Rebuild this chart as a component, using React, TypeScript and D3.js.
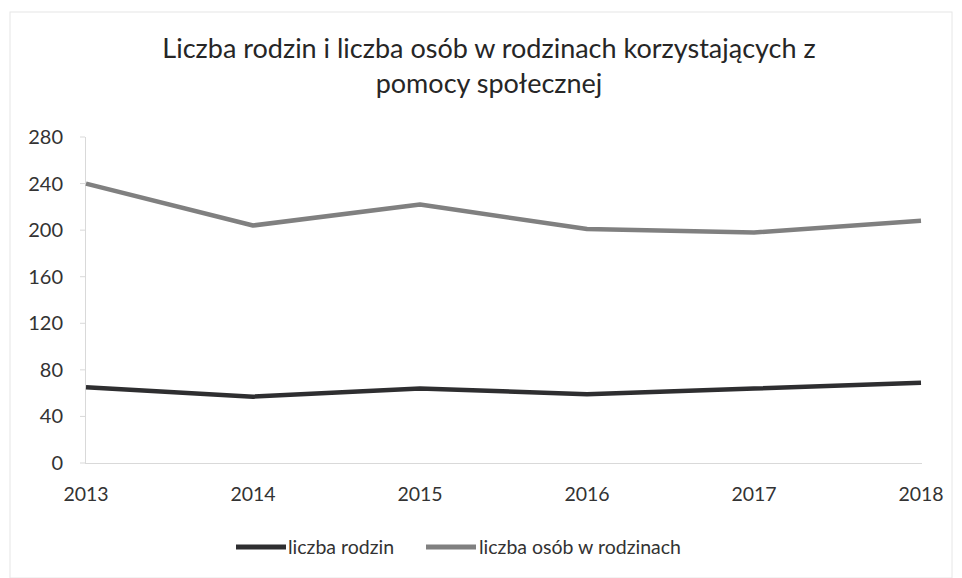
import React from "react";
import * as d3 from "d3";

const years = ["2013", "2014", "2015", "2016", "2017", "2018"];
const liczbaRodzin = [65, 57, 64, 59, 64, 69];
const liczbaOsob = [240, 204, 222, 201, 198, 208];
const yTicks = [0, 40, 80, 120, 160, 200, 240, 280];
const seriesNames = ["liczba rodzin", "liczba osób w rodzinach"];
const titleLines = [
  "Liczba rodzin i liczba osób w rodzinach korzystających z",
  "pomocy społecznej",
];

const W = 962;
const H = 578;
const font = "Lato, 'Open Sans', sans-serif";

export default function App() {
  const x = d3.scalePoint<string>().domain(years).range([86, 921]);
  const y = d3.scaleLinear().domain([0, 280]).range([463, 137]);
  const line = d3
    .line<number>()
    .x((_, i) => x(years[i]) as number)
    .y((d) => y(d));
  const series = [
    { name: seriesNames[0], values: liczbaRodzin, color: "#2e2e30" },
    { name: seriesNames[1], values: liczbaOsob, color: "#808080" },
  ];
  return (
    <svg
      width={W}
      height={H}
      style={{ position: "absolute", left: 0, top: 0, background: "#fff" }}
    >
      <rect x={0} y={0} width={W} height={H} fill="#fff" />
      <rect x={10} y={12} width={942} height={566} fill="none" stroke="#e6e6e6" strokeWidth={1} />
      {titleLines.map((t, i) => (
        <text
          key={i}
          x={489}
          y={58 + i * 35}
          textAnchor="middle"
          fontFamily={font}
          fontSize={27}
          fill="#262626"
        >
          {t}
        </text>
      ))}
      {/* axes */}
      <line x1={85.5} x2={85.5} y1={137} y2={463} stroke="#d9d9d9" />
      <line x1={85} x2={922} y1={463.5} y2={463.5} stroke="#d9d9d9" />
      {yTicks.map((t) => (
        <g key={t}>
          <line x1={80} x2={85} y1={y(t)} y2={y(t)} stroke="#d9d9d9" />
          <text
            x={63}
            y={y(t)}
            dy="0.35em"
            textAnchor="end"
            fontFamily={font}
            fontSize={20}
            fill="#333"
          >
            {t}
          </text>
        </g>
      ))}
      {years.map((yr) => (
        <text
          key={yr}
          x={x(yr)}
          y={494}
          dy="0.35em"
          textAnchor="middle"
          fontFamily={font}
          fontSize={19.5}
          fill="#333"
        >
          {yr}
        </text>
      ))}
      {series.map((s) => (
        <path
          key={s.name}
          d={line(s.values) || ""}
          fill="none"
          stroke={s.color}
          strokeWidth={4.5}
          strokeLinejoin="round"
        />
      ))}
      {/* legend */}
      {[
        { lx: 236, tx: 288 },
        { lx: 426, tx: 479 },
      ].map((p, i) => (
        <g key={i}>
          <line
            x1={p.lx}
            x2={p.lx + 50}
            y1={547}
            y2={547}
            stroke={series[i].color}
            strokeWidth={5}
          />
          <text
            x={p.tx}
            y={547}
            dy="0.35em"
            fontFamily={font}
            fontSize={19.5}
            fill="#333"
          >
            {series[i].name}
          </text>
        </g>
      ))}
    </svg>
  );
}
